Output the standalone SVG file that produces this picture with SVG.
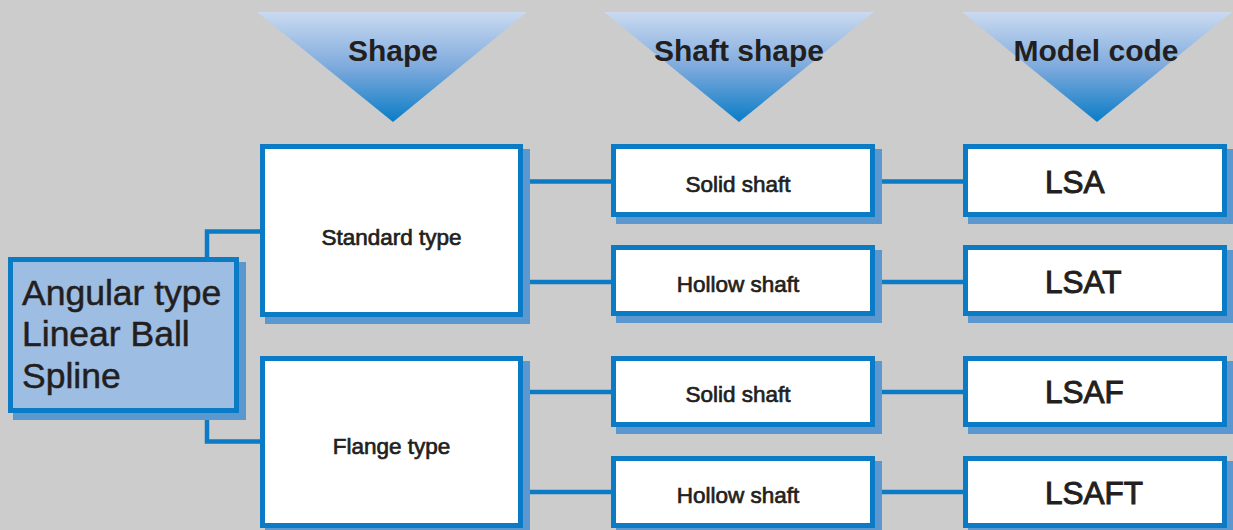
<svg xmlns="http://www.w3.org/2000/svg" width="1233" height="530" viewBox="0 0 1233 530">
<defs>
<linearGradient id="tri" x1="0" y1="0" x2="0" y2="1">
<stop offset="0" stop-color="#cadaf0"/>
<stop offset="0.5" stop-color="#7eaadd"/>
<stop offset="1" stop-color="#0a7cc6"/>
</linearGradient>
</defs>
<style>
.bg{fill:#cccccc}
.box{fill:#ffffff;stroke:#0a7bc4;stroke-width:5}
.lbox{fill:#9ebde3;stroke:#0a7bc4;stroke-width:5}
.sh{fill:#5b98d0}
.con{fill:none;stroke:#0a7bc4;stroke-width:4.5}
.hd{font-family:"Liberation Sans",Arial,sans-serif;font-weight:bold;font-size:30px;fill:#231f20;text-anchor:middle}
.t{font-family:"Liberation Sans",Arial,sans-serif;font-size:22.5px;fill:#231f20;stroke:#231f20;stroke-width:0.7;text-anchor:middle}
.m{font-family:"Liberation Sans",Arial,sans-serif;font-size:31.5px;fill:#231f20;stroke:#231f20;stroke-width:1}
.l{font-family:"Liberation Sans",Arial,sans-serif;font-size:35.5px;fill:#231f20;stroke:#231f20;stroke-width:0.5}
</style>
<rect class="bg" x="0" y="0" width="1233" height="530"/>
<g id="headers">
<g id="h-shape"><polygon points="257,12 527,12 393,122" fill="url(#tri)"/><text class="hd" x="393" y="61">Shape</text></g>
<g id="h-shaft"><polygon points="604,12 874,12 739,122" fill="url(#tri)"/><text class="hd" x="739" y="61">Shaft shape</text></g>
<g id="h-model"><polygon points="962,12 1232,12 1097,122" fill="url(#tri)"/><text class="hd" x="1096" y="61">Model code</text></g>
</g>
<g id="connectors">
<path class="con" d="M207,259 V231.5 H262"/>
<path class="con" d="M207,411 V441.5 H262"/>
<path class="con" d="M521,181.5 H613"/>
<path class="con" d="M521,282 H613"/>
<path class="con" d="M521,392 H613"/>
<path class="con" d="M521,492 H613"/>
<path class="con" d="M873,181.5 H965"/>
<path class="con" d="M873,282 H965"/>
<path class="con" d="M873,392 H965"/>
<path class="con" d="M873,492 H965"/>
</g>
<g id="root"><rect class="sh" x="13" y="262" width="233" height="158"/><rect class="lbox" x="10.5" y="259.5" width="226" height="151"/>
<text class="l" x="22" y="305">Angular type</text><text class="l" x="22" y="346">Linear Ball</text><text class="l" x="22" y="388">Spline</text></g>
<g id="standard"><rect class="sh" x="265" y="149" width="265" height="175"/><rect class="box" x="262.5" y="146.5" width="258" height="168"/><text class="t" x="391.5" y="244.5">Standard type</text></g>
<g id="flange"><rect class="sh" x="265" y="361" width="265" height="174"/><rect class="box" x="262.5" y="358.5" width="258" height="167"/><text class="t" x="391.5" y="453.5">Flange type</text></g>
<g id="solid1"><rect class="sh" x="616" y="149" width="266" height="75"/><rect class="box" x="613.5" y="146.5" width="259" height="68"/><text class="t" x="738" y="191.5">Solid shaft</text></g>
<g id="hollow1"><rect class="sh" x="616" y="250" width="266" height="73"/><rect class="box" x="613.5" y="247.5" width="259" height="66"/><text class="t" x="738" y="292">Hollow shaft</text></g>
<g id="solid2"><rect class="sh" x="616" y="361" width="266" height="73"/><rect class="box" x="613.5" y="358.5" width="259" height="66"/><text class="t" x="738" y="402">Solid shaft</text></g>
<g id="hollow2"><rect class="sh" x="616" y="461" width="266" height="74"/><rect class="box" x="613.5" y="458.5" width="259" height="67"/><text class="t" x="738" y="503">Hollow shaft</text></g>
<g id="lsa"><rect class="sh" x="968" y="149" width="266" height="75"/><rect class="box" x="965.5" y="146.5" width="259" height="68"/><text class="m" x="1045" y="193">LSA</text></g>
<g id="lsat"><rect class="sh" x="968" y="250" width="266" height="73"/><rect class="box" x="965.5" y="247.5" width="259" height="66"/><text class="m" x="1045" y="293">LSAT</text></g>
<g id="lsaf"><rect class="sh" x="968" y="361" width="266" height="73"/><rect class="box" x="965.5" y="358.5" width="259" height="66"/><text class="m" x="1045" y="403">LSAF</text></g>
<g id="lsaft"><rect class="sh" x="968" y="461" width="266" height="74"/><rect class="box" x="965.5" y="458.5" width="259" height="67"/><text class="m" x="1045" y="504">LSAFT</text></g>
</svg>
